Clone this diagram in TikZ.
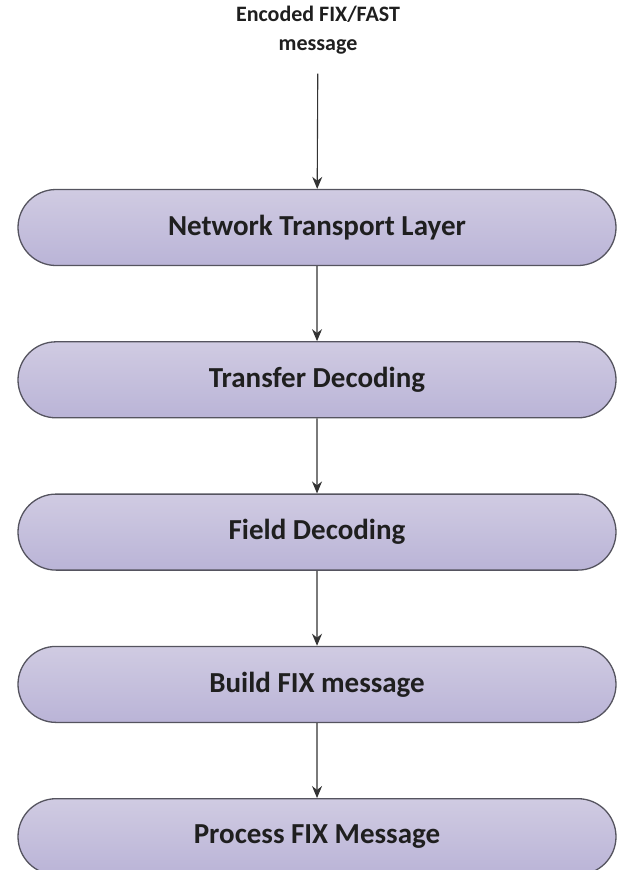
\documentclass[tikz,border=0pt]{standalone}
\usepackage{fontspec}
\setmainfont{Carlito}
\usetikzlibrary{arrows.meta, positioning, shapes.misc, graphs}
\definecolor{layerTop}{HTML}{D0CBE2}
\definecolor{layerBottom}{HTML}{BAB4D7}
\definecolor{layerLine}{HTML}{55545F}
\tikzset{
  node distance=75pt,
  layer/.style={rounded rectangle, draw=layerLine, line width=1.3pt, top color=layerTop, bottom color=layerBottom, minimum width=598pt, minimum height=76pt, inner sep=0pt, font=\fontsize{29}{33}\selectfont\bfseries, text=black!88},
  flow/.style={-{Stealth[length=12pt,width=10pt]}, line width=1.1pt, draw=black!80},
}

\begin{document}
\begin{tikzpicture}[x=1pt,y=-1pt]
  \useasboundingbox (0,0) rectangle (617,870);

  % incoming message
  \node[align=center, text=black!88, font=\fontsize{22}{29}\selectfont\bfseries] (msg) at (318,30) {Encoded FIX/FAST\\message};

  % decoding layers
  \node[layer] (ntl) at (317,227.5) {Network Transport Layer};
  \node[layer, below=of ntl] (tdec) {Transfer Decoding};
  \node[layer, below=of tdec] (fdec) {Field Decoding};
  \node[layer, below=of fdec] (build) {Build FIX message};
  \node[layer, below=of build] (proc) {Process FIX Message};

  \graph[use existing nodes, edges=flow] {
    (msg) ->[shorten <=16pt] (ntl) -> (tdec) -> (fdec) -> (build) -> (proc);
  };
\end{tikzpicture}
\end{document}
